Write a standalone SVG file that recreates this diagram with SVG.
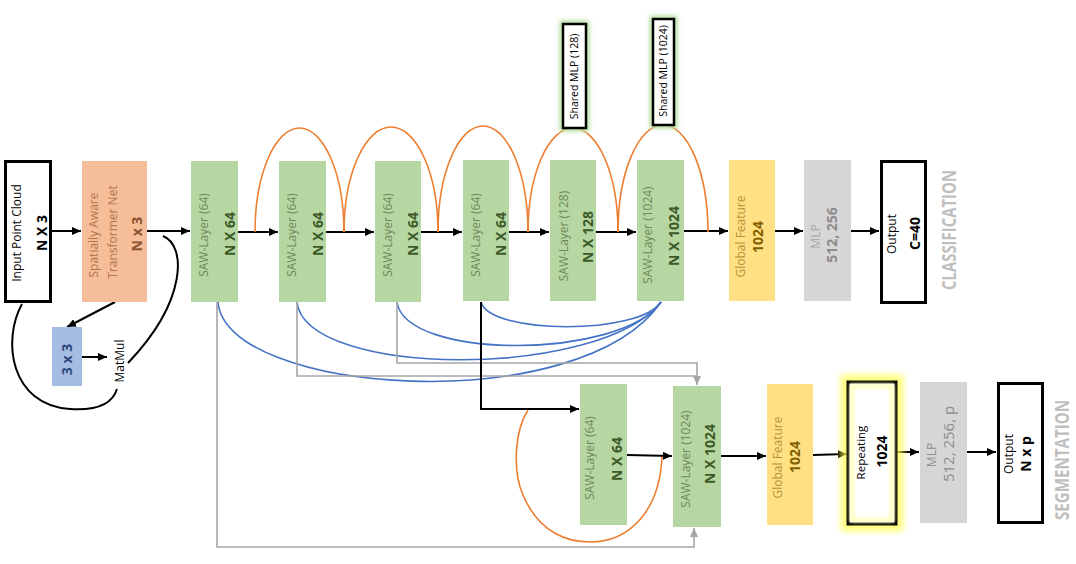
<svg xmlns="http://www.w3.org/2000/svg" width="1076" height="564" viewBox="0 0 1076 564">
<style>
text{font-family:"Open Sans","Liberation Sans",sans-serif;text-anchor:middle}
.r{font-size:12px}
.b{font-size:14px;font-weight:700}
.green{fill:#b7d7a2}
.gl{fill:#6b8b5c}
.gb{fill:#3b5a28}
.yel{fill:#ffe083}
.yl{fill:#b4933c}
.yb{fill:#7f6000}
.grey{fill:#d6d6d6}
.out{fill:#fff;stroke:#000;stroke-width:3}
.big{font-size:19px;font-weight:700;fill:#bfbfbf}
.k{fill:none;stroke:#000;stroke-width:2}
.o{fill:none;stroke:#ed7d31;stroke-width:1.6}
.bl{fill:none;stroke:#4472c4;stroke-width:1.6}
.g{fill:none;stroke:#a6a6a6;stroke-width:1.6}
</style>
<defs>
<marker id="ak" markerUnits="userSpaceOnUse" markerWidth="9" markerHeight="8" refX="9" refY="4" orient="auto"><path d="M0,0 L9,4 L0,8 z" fill="#000"/></marker>
<marker id="ag" markerUnits="userSpaceOnUse" markerWidth="9" markerHeight="8" refX="9" refY="4" orient="auto"><path d="M0,0 L9,4 L0,8 z" fill="#a6a6a6"/></marker>
<filter id="blur2" x="-50%" y="-50%" width="200%" height="200%"><feGaussianBlur stdDeviation="2"/></filter>
<filter id="blur4" x="-50%" y="-50%" width="200%" height="200%"><feGaussianBlur stdDeviation="3.5"/></filter>
</defs>

<g id="connectors">
<!-- main row arrows -->
<line class="k" x1="52" y1="231" x2="81" y2="231" marker-end="url(#ak)"/>
<line class="k" x1="147" y1="231" x2="190" y2="231" marker-end="url(#ak)"/>
<line class="k" x1="238" y1="232" x2="278" y2="232" marker-end="url(#ak)"/>
<line class="k" x1="326" y1="232" x2="374" y2="232" marker-end="url(#ak)"/>
<line class="k" x1="421" y1="232" x2="462" y2="232" marker-end="url(#ak)"/>
<line class="k" x1="509" y1="232" x2="549" y2="232" marker-end="url(#ak)"/>
<line class="k" x1="596" y1="232" x2="636" y2="232" marker-end="url(#ak)"/>
<line class="k" x1="684" y1="231" x2="728" y2="231" marker-end="url(#ak)"/>
<line class="k" x1="775" y1="231" x2="803" y2="231" marker-end="url(#ak)"/>
<line class="k" x1="851" y1="231" x2="879" y2="231" marker-end="url(#ak)"/>
<!-- transformer side -->
<line class="k" x1="115" y1="302" x2="67" y2="327" marker-end="url(#ak)"/>
<line class="k" x1="82" y1="357" x2="107" y2="357" marker-end="url(#ak)"/>
<path class="k" d="M163,236 C186,245 188,300 128,363"/>
<path class="k" d="M22,304 C2,340 10,405 70,409 C100,411 113,402 117,389"/>
<!-- orange skip arcs -->
<path class="o" d="M255,232 A44.5,104 0 0 1 344,232"/>
<path class="o" d="M344,232 A47,105 0 0 1 438,232"/>
<path class="o" d="M438,232 A45,106 0 0 1 528,232"/>
<path class="o" d="M528,232 A45,104 0 0 1 618,232"/>
<path class="o" d="M618,232 A45,107 0 0 1 708,232"/>
<!-- blue curves -->
<path class="bl" d="M218,302 C225,395 580,420 661,302"/>
<path class="bl" d="M297,302 C305,378 600,380 661,302"/>
<path class="bl" d="M397,302 C405,360 620,360 661,302"/>
<path class="bl" d="M481,302 C490,335 640,335 661,302"/>
<!-- grey connectors -->
<path class="g" d="M217,302 V547 H694 V528" marker-end="url(#ag)"/>
<path class="g" d="M297,302 V376 H697"/>
<path class="g" d="M397,302 V363 H697 V385" marker-end="url(#ag)"/>
<!-- black to segmentation -->
<path class="k" d="M481,302 V409 H579" marker-end="url(#ak)"/>
<path class="o" d="M528,410 C515,430 512,470 523,495 C540,535 570,542 590,542 C630,542 660,510 662,456"/>
<line class="k" x1="627" y1="455" x2="672" y2="456" marker-end="url(#ak)"/>
<line class="k" x1="721" y1="456" x2="766" y2="456" marker-end="url(#ak)"/>
<line class="k" x1="813" y1="455" x2="847" y2="454" marker-end="url(#ak)"/>
<line class="k" x1="896" y1="452" x2="919" y2="452" marker-end="url(#ak)"/>
<line class="k" x1="967" y1="452" x2="996" y2="452" marker-end="url(#ak)"/>
</g>

<g id="input">
<rect class="out" x="5.5" y="161.5" width="45" height="140"/>
<text class="r" transform="translate(21,233) rotate(-90)">Input Point Cloud</text>
<text class="b" transform="translate(47,233) rotate(-90)">N X 3</text>
</g>

<g id="transformer">
<rect x="82" y="161" width="65" height="141" fill="#f5be98"/>
<text class="r" fill="#b3754d" transform="translate(97.5,235) rotate(-90)">Spatially Aware</text>
<text class="r" fill="#b3754d" transform="translate(117,232) rotate(-90)">Transformer Net</text>
<text class="b" fill="#8d5230" transform="translate(142,234) rotate(-90)">N x 3</text>
</g>

<g id="mat3x3">
<rect x="52" y="327" width="30" height="59" fill="#a5bce3"/>
<text class="b" fill="#2f4b7c" transform="translate(72,359.5) rotate(-90)">3 x 3</text>
</g>

<g id="matmul">
<text class="r" fill="#000" transform="translate(123.5,361) rotate(-90)">MatMul</text>
</g>

<g id="saw1">
<rect class="green" x="191" y="161" width="47" height="141"/>
<text class="r gl" transform="translate(208,235) rotate(-90)">SAW-Layer (64)</text>
<text class="b gb" transform="translate(235,234) rotate(-90)">N X 64</text>
</g>
<g id="saw2">
<rect class="green" x="279" y="161" width="47" height="141"/>
<text class="r gl" transform="translate(295.5,235) rotate(-90)">SAW-Layer (64)</text>
<text class="b gb" transform="translate(322.5,234) rotate(-90)">N X 64</text>
</g>
<g id="saw3">
<rect class="green" x="375" y="161" width="46" height="141"/>
<text class="r gl" transform="translate(391.5,235) rotate(-90)">SAW-Layer (64)</text>
<text class="b gb" transform="translate(418,234) rotate(-90)">N X 64</text>
</g>
<g id="saw4">
<rect class="green" x="463" y="160" width="46" height="141"/>
<text class="r gl" transform="translate(479.5,235) rotate(-90)">SAW-Layer (64)</text>
<text class="b gb" transform="translate(506,234) rotate(-90)">N X 64</text>
</g>
<g id="saw5">
<rect class="green" x="550" y="160" width="46" height="141"/>
<text class="r gl" transform="translate(567.5,236) rotate(-90)">SAW-Layer (128)</text>
<text class="b gb" transform="translate(593,237) rotate(-90)">N X 128</text>
</g>
<g id="saw6">
<rect class="green" x="637" y="160" width="47" height="141"/>
<text class="r gl" transform="translate(652,235) rotate(-90)">SAW-Layer (1024)</text>
<text class="b gb" transform="translate(679,236) rotate(-90)">N X 1024</text>
</g>

<g id="sharedmlp128">
<rect x="563" y="24" width="23" height="104" fill="none" stroke="#b8e0a0" stroke-width="7" filter="url(#blur2)"/>
<rect x="563" y="24" width="23" height="104" fill="#fff" stroke="#000" stroke-width="2.5"/>
<text font-size="10.5px" fill="#000" transform="translate(578,76.5) rotate(-90)">Shared MLP (128)</text>
</g>
<g id="sharedmlp1024">
<rect x="653" y="19" width="21" height="106" fill="none" stroke="#b8e0a0" stroke-width="7" filter="url(#blur2)"/>
<rect x="653" y="19" width="21" height="106" fill="#fff" stroke="#000" stroke-width="2.5"/>
<text font-size="10.5px" fill="#000" transform="translate(667,71) rotate(-90)">Shared MLP (1024)</text>
</g>

<g id="globalfeature">
<rect class="yel" x="729" y="160" width="46" height="141"/>
<text class="r yl" transform="translate(745,236.5) rotate(-90)">Global Feature</text>
<text class="b yb" transform="translate(763,237) rotate(-90)">1024</text>
</g>
<g id="mlp">
<rect class="grey" x="804" y="160" width="47" height="141"/>
<text class="r" fill="#a6a6a6" transform="translate(820,236.5) rotate(-90)">MLP</text>
<text class="b" fill="#8c8c8c" transform="translate(837,235) rotate(-90)">512, 256</text>
</g>
<g id="output">
<rect class="out" x="881.5" y="161.5" width="44" height="141"/>
<text class="r" fill="#000" transform="translate(896,234) rotate(-90)">Output</text>
<text class="b" fill="#000" transform="translate(920,233.5) rotate(-90)">C=40</text>
</g>
<g id="classification">
<text class="big" textLength="120" lengthAdjust="spacingAndGlyphs" transform="translate(956,230) rotate(-90)">CLASSIFICATION</text>
</g>

<g id="seg-saw64">
<rect class="green" x="580" y="384" width="47" height="141"/>
<text class="r gl" transform="translate(594,458) rotate(-90)">SAW-Layer (64)</text>
<text class="b gb" transform="translate(622,459) rotate(-90)">N X 64</text>
</g>
<g id="seg-saw1024">
<rect class="green" x="673" y="386" width="48" height="141"/>
<text class="r gl" transform="translate(690,459) rotate(-90)">SAW-Layer (1024)</text>
<text class="b gb" transform="translate(715,454) rotate(-90)">N X 1024</text>
</g>
<g id="seg-globalfeature">
<rect class="yel" x="767" y="384" width="46" height="141"/>
<text class="r yl" transform="translate(782,457.5) rotate(-90)">Global Feature</text>
<text class="b yb" transform="translate(800,457) rotate(-90)">1024</text>
</g>
<g id="repeating">
<rect x="848" y="382" width="48" height="142" fill="none" stroke="#ffff50" stroke-width="14" opacity="0.8" filter="url(#blur4)"/>
<rect x="848" y="382" width="48" height="142" fill="#fff" stroke="#000" stroke-width="3"/>
<rect x="852" y="386" width="40" height="134" fill="none" stroke="#ffffb0" stroke-width="4" filter="url(#blur2)"/>
<text font-size="11.5px" fill="#000" transform="translate(865,452.5) rotate(-90)">Repeating</text>
<text class="b" fill="#000" transform="translate(887,451.5) rotate(-90)">1024</text>
</g>
<g id="seg-mlp">
<rect class="grey" x="920" y="382" width="47" height="141"/>
<text class="r" fill="#8c8c8c" transform="translate(936,455) rotate(-90)">MLP</text>
<text font-size="15px" fill="#8c8c8c" transform="translate(954,444) rotate(-90)">512, 256, p</text>
</g>
<g id="seg-output">
<rect class="out" x="998.5" y="383.5" width="44" height="139"/>
<text class="r" fill="#000" transform="translate(1013,454) rotate(-90)">Output</text>
<text class="b" fill="#000" transform="translate(1031,454) rotate(-90)">N x p</text>
</g>
<g id="segmentation">
<text class="big" textLength="120" lengthAdjust="spacingAndGlyphs" transform="translate(1069,460) rotate(-90)">SEGMENTATION</text>
</g>
</svg>
